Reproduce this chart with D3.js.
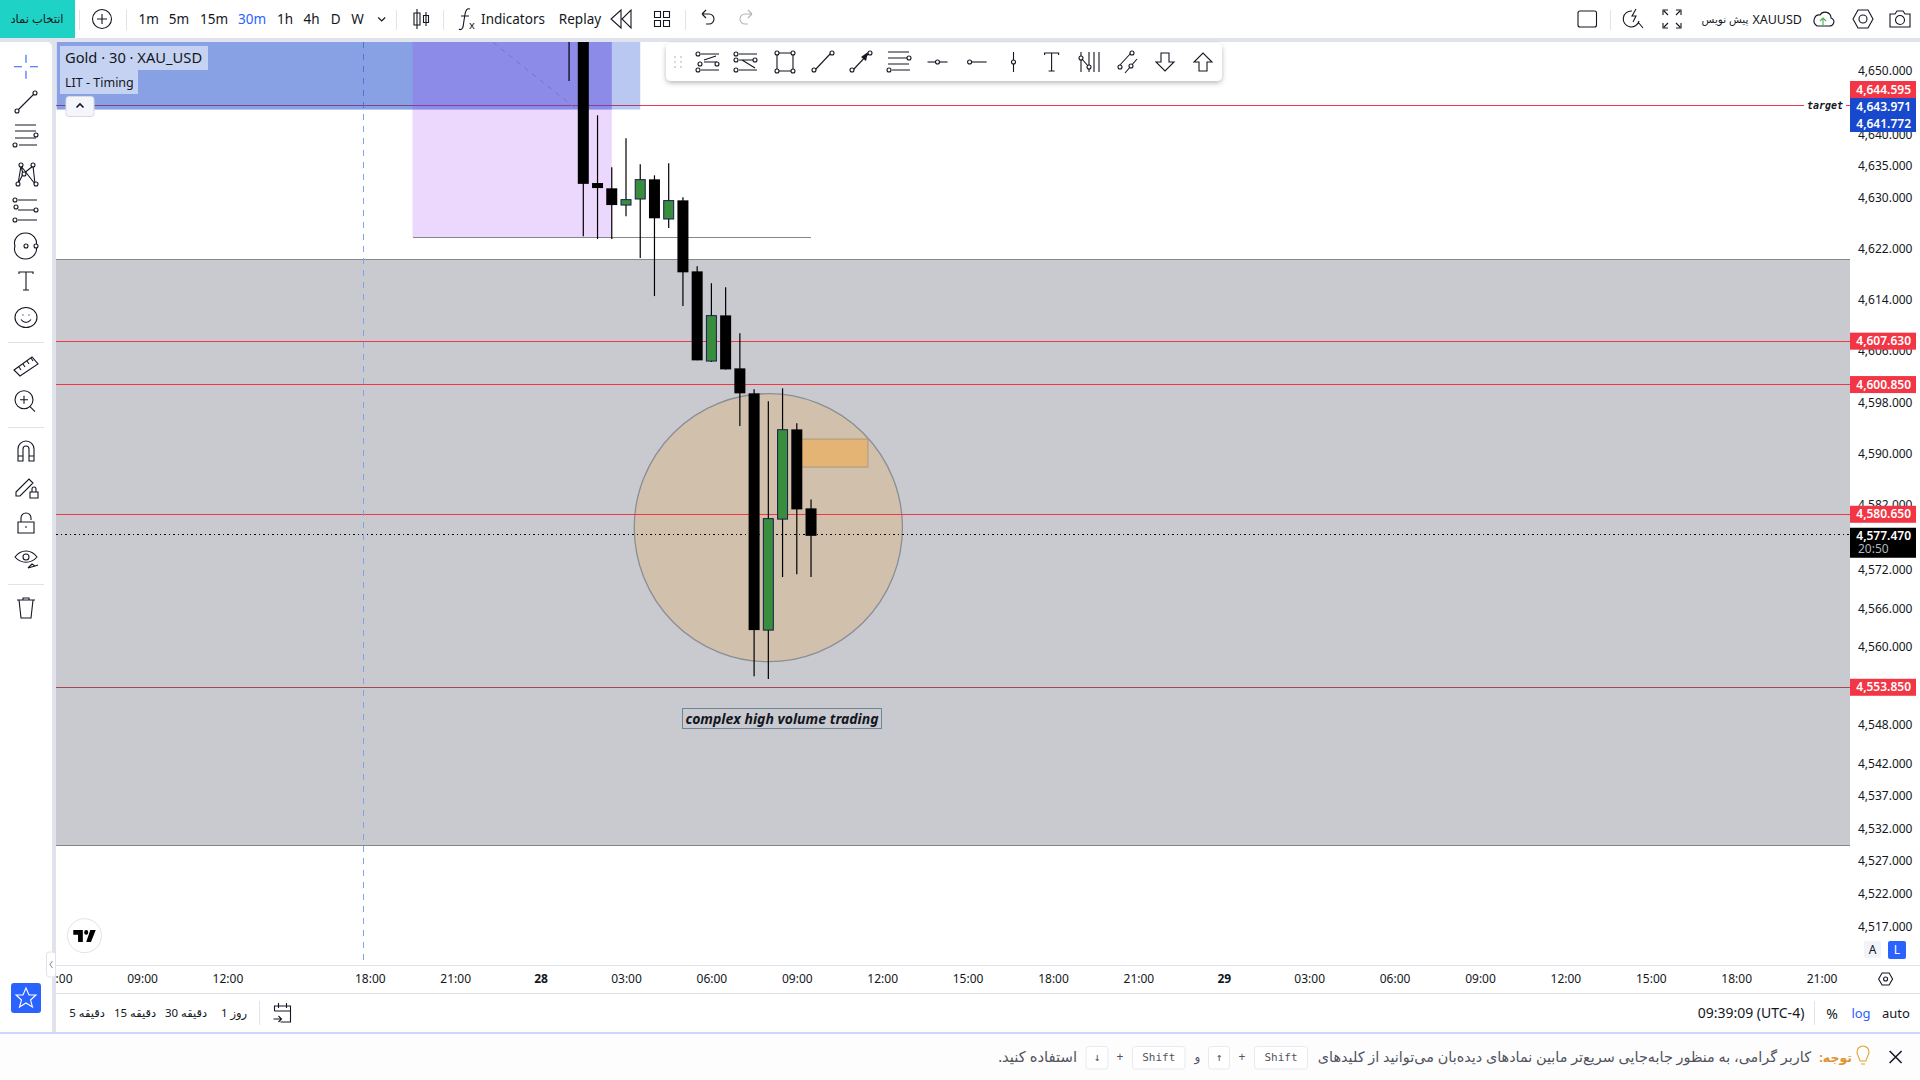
<!DOCTYPE html>
<html>
<head>
<meta charset="utf-8">
<style>
html, body { margin: 0; background: #fff; }
svg { display: block; }
text { font-family: "Noto Sans", "DejaVu Sans", sans-serif; fill: #131722; }
.tick text { font-size: 12px; }
.ico { fill: none; stroke: #131722; stroke-width: 1.1; }
.sep { stroke: #e0e3eb; stroke-width: 1; shape-rendering: crispEdges; }
</style>
</head>
<body>
<script src="https://cdnjs.cloudflare.com/ajax/libs/d3/7.8.5/d3.min.js"></script>
<script>
// bars are counted from 28th 00:00, 30 min each
var candleBars = [2, 3, 4, 5, 6, 7, 8, 9, 10, 11, 12, 13, 14, 15, 16, 17, 18, 19];
var candleOpen = [4668, 4662, 4632.41, 4631.58, 4628.95, 4629.90, 4632.99, 4626.76, 4629.69, 4618.55, 4604.52, 4611.66, 4603.38, 4599.48, 4562.69, 4579.90, 4593.86, 4581.57];
var candleClose = [4655, 4632.28, 4631.62, 4628.95, 4629.80, 4632.94, 4626.87, 4629.65, 4618.40, 4604.63, 4611.62, 4603.22, 4599.48, 4562.69, 4579.97, 4593.81, 4581.41, 4577.30];
var candleHigh = [4675, 4668, 4643.06, 4634.88, 4639.44, 4635.35, 4633.62, 4635.51, 4630.16, 4619.34, 4616.67, 4616.05, 4608.85, 4600.10, 4598.23, 4600.26, 4594.80, 4582.96];
var candleLow = [4648.47, 4624.04, 4623.62, 4623.62, 4627.18, 4620.64, 4614.68, 4625.34, 4613.12, 4604.63, 4604.36, 4603.22, 4594.38, 4555.57, 4555.11, 4570.90, 4571.36, 4570.90];

var priceTicks = [4650, 4640, 4635, 4630, 4622, 4614, 4606, 4598, 4590, 4582, 4572, 4566, 4560, 4548, 4542, 4537, 4532, 4527, 4522, 4517];
var timeBars = [-34, -28, -22, -12, -6, 0, 6, 12, 18, 24, 30, 36, 42, 48, 54, 60, 66, 72, 78, 84, 90];
var timeLabels = ["06:00", "09:00", "12:00", "18:00", "21:00", "28", "03:00", "06:00", "09:00", "12:00", "15:00", "18:00", "21:00", "29", "03:00", "06:00", "09:00", "12:00", "15:00", "18:00", "21:00"];

var redLevels = [4644.595, 4607.63, 4600.85, 4580.65, 4553.85];
var blueLevels = [4643.971, 4641.772];
var lastPrice = 4577.47;
var countdown = "20:50";

var grayZone = [4620.4, 4529.4];
var circleBars = [6.58, 25.42];
var circlePrices = [4599.43, 4557.80];
var orangeBars = [18, 23];
var orangePrices = [4592.35, 4587.99];
var blueBoxBars = [[-34, 7], [-34, 5]];
var purpleBars = [-9, 5];
var purplePrices = [4660, 4623.9];
var stopLineBars = [-9, 19];
var dashBars = [-3.34, 2.62];
var dashPrices = [4654.58, 4643.85];
var sessionBar = -12.43;

var svg = d3.select("body").append("svg").attr("width", 1920).attr("height", 1080);
var defs = svg.append("defs");
defs.append("clipPath").attr("id", "plot").append("rect").attr("x", 56).attr("y", 42).attr("width", 1794).attr("height", 923);
defs.append("clipPath").attr("id", "timeclip").append("rect").attr("x", 56).attr("y", 965).attr("width", 1794).attr("height", 28);
var blur = defs.append("filter").attr("id", "shadow").attr("x", "-5%").attr("y", "-20%").attr("width", "110%").attr("height", "150%");
blur.append("feDropShadow").attr("dx", 0).attr("dy", 2).attr("stdDeviation", 2.5).attr("flood-color", "#000").attr("flood-opacity", 0.28);

// scales: x by bar number, y log like the chart's "log" switch
var x = d3.scaleLinear().domain([0, 6]).range([540.6, 626]);
var y = d3.scaleLog().domain([4650, 4517]).range([71.3, 926.8]);

var plot = svg.append("g").attr("clip-path", "url(#plot)");
var red = "#f23645";

// drawings below the candles
plot.append("rect").attr("x", 56).attr("width", 1794)
  .attr("y", y(grayZone[0])).attr("height", y(grayZone[1]) - y(grayZone[0]))
  .attr("fill", "#c9cacf");
plot.selectAll(".zoneedge").data(grayZone).enter().append("line").attr("class", "zoneedge")
  .attr("x1", 56).attr("x2", 1850).attr("y1", function(d) { return y(d); }).attr("y2", function(d) { return y(d); })
  .attr("stroke", "#85868a").attr("stroke-width", 1).attr("shape-rendering", "crispEdges");

plot.append("ellipse")
  .attr("cx", (x(circleBars[0]) + x(circleBars[1])) / 2).attr("rx", (x(circleBars[1]) - x(circleBars[0])) / 2)
  .attr("cy", (y(circlePrices[0]) + y(circlePrices[1])) / 2).attr("ry", (y(circlePrices[1]) - y(circlePrices[0])) / 2)
  .attr("fill", "#d1c1ac").attr("stroke", "#8b8d95").attr("stroke-width", 1.3);

plot.append("rect").attr("x", x(orangeBars[0])).attr("width", x(orangeBars[1]) - x(orangeBars[0]))
  .attr("y", y(orangePrices[0])).attr("height", y(orangePrices[1]) - y(orangePrices[0]))
  .attr("fill", "#e3b474").attr("stroke", "#a89a85").attr("stroke-width", 1);

// the lowest level reads darker in the picture
plot.selectAll(".level").data(redLevels).enter().append("line").attr("class", "level")
  .attr("x1", 56).attr("x2", 1850).attr("y1", function(d) { return y(d); }).attr("y2", function(d) { return y(d); })
  .attr("stroke", function(d, i) { return i === redLevels.length - 1 ? "#a8464f" : red; }).attr("stroke-width", 1).attr("shape-rendering", "crispEdges");

plot.append("line").attr("x1", 56).attr("x2", 1850).attr("y1", y(lastPrice)).attr("y2", y(lastPrice))
  .attr("stroke", "#000").attr("stroke-dasharray", "1.5,3").attr("stroke-width", 1).attr("shape-rendering", "crispEdges");

plot.append("line").attr("x1", x(sessionBar)).attr("x2", x(sessionBar)).attr("y1", 42).attr("y2", 961)
  .attr("stroke", "#7ea6ea").attr("stroke-dasharray", "6,6").attr("stroke-width", 1).attr("shape-rendering", "crispEdges");

plot.selectAll(".bluebox").data(blueBoxBars).enter().append("rect").attr("class", "bluebox")
  .attr("x", function(d) { return x(d[0]); }).attr("width", function(d) { return x(d[1]) - x(d[0]); })
  .attr("y", 42).attr("height", y(blueLevels[0]) - 42).attr("fill", "#1848cc").attr("fill-opacity", 0.3);

plot.append("rect").attr("x", x(purpleBars[0])).attr("width", x(purpleBars[1]) - x(purpleBars[0]))
  .attr("y", y(purplePrices[0])).attr("height", y(purplePrices[1]) - y(purplePrices[0]))
  .attr("fill", "#a037f5").attr("fill-opacity", 0.2);

plot.append("line").attr("x1", x(stopLineBars[0])).attr("x2", x(stopLineBars[1])).attr("y1", y(purplePrices[1])).attr("y2", y(purplePrices[1]))
  .attr("stroke", "#85868a").attr("stroke-width", 1).attr("shape-rendering", "crispEdges");

plot.append("line").attr("x1", x(dashBars[0])).attr("x2", x(dashBars[1])).attr("y1", y(dashPrices[0])).attr("y2", y(dashPrices[1]))
  .attr("stroke", "#7c78b8").attr("stroke-dasharray", "5,5").attr("stroke-width", 1);

// candles
var candles = plot.selectAll(".candle").data(candleBars).enter().append("g").attr("class", "candle");
candles.append("line")
  .attr("x1", function(d) { return x(d); }).attr("x2", function(d) { return x(d); })
  .attr("y1", function(d, i) { return y(candleHigh[i]); }).attr("y2", function(d, i) { return y(candleLow[i]); })
  .attr("stroke", "#000").attr("stroke-width", 1.2);
candles.append("rect")
  .attr("x", function(d, i) { return x(d) - (candleClose[i] > candleOpen[i] ? 5 : 5.5); })
  .attr("width", function(d, i) { return candleClose[i] > candleOpen[i] ? 10 : 11; })
  .attr("y", function(d, i) { return y(Math.max(candleOpen[i], candleClose[i])); })
  .attr("height", function(d, i) { return Math.abs(y(candleOpen[i]) - y(candleClose[i])); })
  .attr("fill", function(d, i) { return candleClose[i] > candleOpen[i] ? "#388e3c" : "#000"; })
  .attr("stroke", function(d, i) { return candleClose[i] > candleOpen[i] ? "#1b1b50" : "none"; })
  .attr("stroke-width", 1);

// drawing labels
svg.append("rect").attr("x", 1804).attr("y", y(redLevels[0]) - 8).attr("width", 42).attr("height", 16).attr("fill", "#fff");
svg.append("text").attr("x", 1825).attr("y", y(redLevels[0]) + 3.5).attr("text-anchor", "middle")
  .style("font-family", "'DejaVu Sans Mono'").style("font-size", "10px").style("font-weight", 700).style("font-style", "italic").text("target");

svg.append("rect").attr("x", 682.5).attr("y", 708.5).attr("width", 199).attr("height", 20)
  .attr("fill", "#c9cacf").attr("stroke", "#6f8695").attr("stroke-width", 1);
svg.append("text").attr("x", 782).attr("y", 723.5).attr("text-anchor", "middle")
  .style("font-size", "14px").style("font-weight", 700).style("font-style", "italic").text("complex high volume trading");

// price axis
svg.append("g").attr("transform", "translate(1850,-0.5)")
  .call(d3.axisRight(y).tickValues(priceTicks).tickSize(0).tickPadding(8).tickFormat(d3.format(",.3f")))
  .call(function(g) { g.select(".domain").remove(); });

// badges, pushed up when they would overlap
var badges = redLevels.map(function(d) { return { v: d, c: red }; })
  .concat(blueLevels.map(function(d) { return { v: d, c: "#1848cc" }; }))
  .sort(function(a, b) { return a.v - b.v; });
var lastTop = 2000;
badges.forEach(function(b) {
  b.cy = Math.min(y(b.v), lastTop - 8.5);
  lastTop = b.cy - 8.5;
});
var badge = svg.selectAll(".badge").data(badges).enter().append("g").attr("class", "badge");
badge.append("rect").attr("x", 1850).attr("width", 66).attr("height", 17)
  .attr("y", function(d) { return d.cy - 8.5; }).attr("fill", function(d) { return d.c; });
badge.append("text").attr("x", 1911).attr("text-anchor", "end").attr("y", function(d) { return d.cy + 4.2; })
  .style("fill", "#fff").style("font-size", "12px").style("font-weight", 600).text(function(d) { return d3.format(",.3f")(d.v); });

svg.append("rect").attr("x", 1850).attr("y", y(lastPrice) - 7).attr("width", 66).attr("height", 30).attr("fill", "#000");
svg.append("text").attr("x", 1911).attr("y", y(lastPrice) + 5).attr("text-anchor", "end")
  .style("fill", "#fff").style("font-size", "12px").style("font-weight", 600).text(d3.format(",.3f")(lastPrice));
svg.append("text").attr("x", 1858).attr("y", y(lastPrice) + 18).style("fill", "#b2b5be").style("font-size", "12px").text(countdown);

// time axis
var timeAxis = svg.append("g").attr("clip-path", "url(#timeclip)").append("g").attr("transform", "translate(0,965)")
  .call(d3.axisBottom(x).tickValues(timeBars).tickSize(0).tickPadding(9).tickFormat(function(d, i) { return timeLabels[i]; }));
timeAxis.select(".domain").remove();
timeAxis.selectAll("text").style("font-weight", function(d, i) { return timeLabels[i].length < 3 ? 700 : 400; });

// frame
function box(xx, yy, w, h, fill) { return svg.append("rect").attr("x", xx).attr("y", yy).attr("width", w).attr("height", h).attr("fill", fill); }
function label(txt, xx, yy, size, anchor, color) {
  return svg.append("text").attr("x", xx).attr("y", yy).attr("text-anchor", anchor || "middle")
    .style("font-size", (size || 13) + "px").style("fill", color || "#131722").text(txt);
}
function sepV(xx, y0, y1) { svg.append("line").attr("class", "sep").attr("x1", xx).attr("x2", xx).attr("y1", y0).attr("y2", y1); }
function sepH(x0, x1, yy) { svg.append("line").attr("class", "sep").attr("x1", x0).attr("x2", x1).attr("y1", yy).attr("y2", yy); }
function ico(cx, cy, d, dots, color) {
  var g = svg.append("g").attr("class", "ico").attr("transform", "translate(" + cx + "," + cy + ")");
  if (color) g.style("stroke", color);
  g.append("path").attr("d", d);
  (dots || []).forEach(function(p) { g.append("circle").attr("cx", p[0]).attr("cy", p[1]).attr("r", 2).attr("fill", "#fff"); });
  return g;
}

box(0, 38, 1920, 4, "#e0e3eb");
box(52, 42, 4, 991, "#e0e3eb");
svg.append("path").attr("d", "M0 42H47a5 5 0 0 1 5 5V42Z").attr("fill", "#e0e3eb");
sepH(56, 1920, 965.5);
sepH(56, 1920, 993.5);
box(0, 1032, 1920, 2, "#cdd6fb");
box(0, 1034, 1920, 46, "#fdfdfd");

// legend
box(60, 46, 148, 24, "#c5d2f2");
box(60, 70, 78, 24, "#c5d2f2");
label("Gold · 30 · XAU_USD", 65, 63, 14.7, "start");
label("LIT - Timing", 65, 87, 12.5, "start");
svg.append("rect").attr("x", 66).attr("y", 96.5).attr("width", 28).attr("height", 20).attr("rx", 3)
  .attr("fill", "#f4f6fc").attr("stroke", "#d7dbe6");
ico(80, 106, "M-3.5 1.5L0 -2L3.5 1.5").style("stroke-width", 1.6);

// top bar
box(0, 0, 75, 38, "#1ed2c5");
label("انتخاب نماد", 37, 23, 11.5);
ico(102, 19, "M-5 0H5M0 -5V5M9.5 0A9.5 9.5 0 1 1 -9.5 0A9.5 9.5 0 1 1 9.5 0");
sepV(79.5, 10, 30); sepV(126.5, 10, 30); sepV(396.5, 10, 30); sepV(443.5, 10, 30); sepV(685.5, 10, 30); sepV(1610.5, 10, 30);
[["1m", 148.7], ["5m", 179], ["15m", 214], ["30m", 252], ["1h", 285], ["4h", 311.6], ["D", 335.7], ["W", 357.6]].forEach(function(t) {
  label(t[0], t[1], 24, 13.5, "middle", t[0] === "30m" ? "#2962ff" : "#131722");
});
ico(381.7, 19, "M-3.5 -1.5L0 2L3.5 -1.5");
ico(421, 19, "M-4 -10V10M-7 -6H-1V6H-7ZM5 -7V7M2.5 -3.5H7.5V3.5H2.5Z");
ico(465, 19, "M5 -10C2 -11 1 -9 0 -5L-2 8C-3 11 -5 11 -6 10M-4 -3H4");
label("x", 472, 29, 11);
label("Indicators", 513, 24, 13.5);
label("Replay", 580, 24, 13.5);
ico(621, 19, "M0 -9V9L-10 0ZM10 -9V9L1 0Z");
ico(662, 19, "M-7.5 -7.5H-1.5V-1.5H-7.5ZM1.5 -7.5H7.5V-1.5H1.5ZM-7.5 1.5H-1.5V7.5H-7.5ZM1.5 1.5H7.5V7.5H1.5Z");
ico(708, 19, "M-6 -5L-2 -1M-6 -5L-2 -9M-6 -5H1A5 5 0 0 1 1 5H-2");
ico(746, 19, "M6 -5L2 -1M6 -5L2 -9M6 -5H-1A5 5 0 0 0 -1 5H2", null, "#b2b5be");
svg.append("rect").attr("class", "ico").attr("x", 1578).attr("y", 11).attr("width", 18.5).attr("height", 16).attr("rx", 2);
ico(1633, 18, "M-1 -7A8 8 0 1 0 6 3M5 4L10 10M3 -9L-1 -2H3L0 4");
ico(1672, 19, "M-9 -4V-9H-4M4 -9H9V-4M9 4V9H4M-4 9H-9V4M-8 -8L-4 -4M8 -8L4 -4M-8 8L-4 4M8 8L4 4");
label("پیش نویس", 1725, 23, 10.5, "middle");
label("XAUUSD", 1802, 24, 12.5, "end");
ico(1823, 19, "M-6 7H6C11 7 13 1 8 -1C8 -7 0 -9 -3 -4C-8 -5 -12 3 -6 7Z");
ico(1823, 19, "M0 7V-1M-3 2L0 -1L3 2", null, "#4caf50");
ico(1863, 19, "M-10 0L-5 -9H5L10 0L5 9H-5ZM4 0A4 4 0 1 1 -4 0A4 4 0 1 1 4 0");
ico(1900, 19, "M-10 -5H-5L-3 -8H3L5 -5H10V8H-10ZM4.5 1A4.5 4.5 0 1 1 -4.5 1A4.5 4.5 0 1 1 4.5 1");

// left tool bar
ico(26, 66.8, "M-12 0H-4M4 0H12M0 -12V-4M0 4V12", null, "#2962ff");
ico(26, 102, "M-8 8L8 -8", [[-9, 9], [9, -9]]);
ico(26, 136, "M-11 -11H10M-11 -5H10M-11 2H10M-7 9H11", [[10, -1], [-11, 9]]);
ico(26, 174, "M-8 10L-5 -8L9 10M-5 -8L-3 0L-8 10M7 -8L9 10M7 -8L-3 0", [[-8, 10], [-5, -9], [7, -9], [10, 10], [-2, 0]]);
ico(26, 210, "M-8 -10H11M-8 0H10M-8 10H11", [[-11, -10], [-10, -3], [-11, 10], [10, 0]]);
ico(26, 246, "M10 0A11 10 0 1 1 -11 0A11 10 0 1 1 10 0", [[10, 0], [0, 0]]);
ico(26, 281, "M-7 -7V-9H7V-7M0 -9V9M-3 9H3");
ico(26, 317.5, "M11 0A11 10 0 1 1 -11 0A11 10 0 1 1 11 0M-5 2C-2 6 2 6 5 2M-3 -3V-2M3 -3V-2");
sepH(8, 44, 342.5);
ico(26, 366, "M-12 4L6 -9L12 -2L-6 10ZM-7 1L-5 4M-3 -2L-1 1M1 -5L3 -2M5 -8L7 -5");
ico(26, 401.7, "M7 -2A9 9 0 1 1 -11 -2A9 9 0 1 1 7 -2M-6 -2H2M-2 -6V2M4 5L9 10");
sepH(8, 44, 427.5);
ico(26, 451, "M-8 10V-2A8 8 0 0 1 8 -2V10H3V-2A3 3 0 0 0 -3 -2V10ZM-8 5H-3M3 5H8");
ico(26, 486, "M-10 6L3 -7L7 -3L-6 10H-10ZM4 6H12V12H4ZM6 6V3A2 2 0 0 1 10 3V6");
ico(26, 523, "M-8 -1H8V10H-8ZM-5 -1V-5A5 5 0 0 1 5 -5V-3M-1 4H1");
ico(26, 559, "M-11 -2C-5 -10 5 -10 11 -2C5 5 -5 5 -11 -2ZM3 -2A3 3 0 1 1 -3 -2A3 3 0 1 1 3 -2M2 9L6 5L9 7M2 9L9 7L12 6");
sepH(8, 44, 584.5);
ico(26, 608, "M-9 -8H9M-7 -8L-5 10H5L7 -8M-3 -8V-10H3V-8");

// floating drawings bar
svg.append("rect").attr("x", 666).attr("y", 43).attr("width", 556).attr("height", 38).attr("rx", 5).attr("fill", "#fff").attr("filter", "url(#shadow)");
svg.append("g").selectAll("circle").data([[0, 0], [0, 1], [0, 2], [1, 0], [1, 1], [1, 2]]).enter().append("circle")
  .attr("cx", function(d) { return 675 + d[0] * 6; }).attr("cy", function(d) { return 57 + d[1] * 5; }).attr("r", 1).attr("fill", "#c9cbd1");
var fy = 62;
ico(708, fy, "M-7 -8H11M-4 0H9M-7 8H11M-4 -2L8 -6", [[-10, -8], [-8, 2], [-10, 8], [9, 2]]);
ico(746, fy, "M-7 -8H11M-7 -2H9M-7 8H11M-4 -2L9 6", [[-10, -8], [-10, -2], [-10, 8], [9, -2]]);
ico(785, fy, "M-8 -9H8V9H-8Z", [[-8, -9], [8, -9], [-8, 9], [8, 9]]);
ico(823, fy, "M-8 8L8 -9", [[-9, 8], [9, -9]]);
ico(861, fy, "M-8 8L8 -9", [[-9, 8], [9, -9]]);
svg.append("path").attr("d", "M861 57L868 52L866 61Z").attr("fill", "#131722");
ico(899, fy, "M-11 -10H10M-11 -4H10M-11 2H10M-7 8H11", [[10, -4], [-10, 8]]);
ico(937.5, fy, "M-10 0H10", [[0, 0]]);
ico(975.6, fy, "M-5 0H11", [[-6, 0]]);
ico(1013.5, fy, "M0 -10V10", [[0, 0]]);
ico(1051.6, fy, "M-7 -7V-9H7V-7M0 -9V9M-3 9H3");
ico(1090, fy, "M-9 -10V10M-1 -10V10M4 -10V10M9 -10V10M-9 -4L-1 5", [[-9, -4], [-1, 5]]);
ico(1128, fy, "M-9 4L3 -9M-3 11L9 -3", [[-8, 5], [4, -9], [3, 4]]);
ico(1165, fy, "M-4 -9H4V0H9L0 9L-9 0H-4Z");
ico(1203, fy, "M-4 9H4V0H9L0 -9L-9 0H-4Z");

// lower left
svg.append("ellipse").attr("cx", 84.5).attr("cy", 935.7).attr("rx", 17).attr("ry", 17).attr("fill", "#fff").attr("stroke", "#e0e3eb");
svg.append("path").attr("transform", "translate(73.3,925.2) scale(0.68,0.8)")
  .attr("d", "M14 6H0v6h7v9h7V6zm12 15h-7l6-15h8l-7 15zm-7-9a3 3 0 100-6 3 3 0 000 6z").attr("fill", "#000");
svg.append("rect").attr("x", 46.5).attr("y", 952).attr("width", 9).attr("height", 25).attr("rx", 3).attr("fill", "#fff").attr("stroke", "#e0e3eb");
ico(51, 964.5, "M1.5 -3.5L-1 0L1.5 3.5", null, "#9598a1");
svg.append("rect").attr("x", 11).attr("y", 983).attr("width", 30).attr("height", 30).attr("rx", 3).attr("fill", "#2962ff");
ico(26, 998, "M0 -10L3 -3L10 -3L4.5 2L6.5 9L0 5L-6.5 9L-4.5 2L-10 -3L-3 -3Z", null, "#fff");

// bottom bar
[["5 دقیقه", 87], ["15 دقیقه", 135], ["30 دقیقه", 186], ["1 روز", 234]].forEach(function(t) { label(t[0], t[1], 1017, 11.5); });
sepV(259.5, 1001, 1025);
ico(282.5, 1013, "M-8 -2V-7H8V9H-2M-8 -2H8M-4 -10V-5M4 -10V-5M-9 6H-1M-4 3L-1 6L-4 9");
label("09:39:09 (UTC-4)", 1751, 1018, 14);
sepV(1814.5, 1001, 1025);
label("%", 1832, 1018.5, 14);
label("log", 1861, 1018, 13, "middle", "#2962ff");
label("auto", 1896, 1018, 13);

// corner of the price axis
svg.append("rect").attr("x", 1864).attr("y", 941).attr("width", 17).attr("height", 17).attr("rx", 2).attr("fill", "#f0f3fa");
label("A", 1872.5, 954, 12);
svg.append("rect").attr("x", 1888).attr("y", 941).attr("width", 18).attr("height", 18).attr("rx", 2).attr("fill", "#2962ff");
label("L", 1897, 954, 12, "middle", "#fff");
ico(1885.6, 979, "M-7 0L-3.5 -6H3.5L7 0L3.5 6H-3.5ZM2 0A2 2 0 1 1 -2 0A2 2 0 1 1 2 0");

// notice bar
function key(xx, w, txt) {
  svg.append("rect").attr("x", xx).attr("y", 1046.5).attr("width", w).attr("height", 22.5).attr("rx", 3).attr("fill", "#fff").attr("stroke", "#e8eaef");
  label(txt, xx + w / 2, 1061, 11, "middle", "#50535e").style("font-family", "'DejaVu Sans Mono'");
}
function rtl(txt, xx, size, color) {
  return svg.append("text").attr("x", xx).attr("y", 1061.5).attr("direction", "rtl").attr("text-anchor", "start")
    .style("font-size", size + "px").style("fill", color).text(txt);
}
ico(1895.6, 1057, "M-6 -6L6 6M6 -6L-6 6").style("stroke-width", 1.5);
ico(1863, 1056, "M-3 5C-3 2 -6 0 -6 -4A6 6 0 0 1 6 -4C6 0 3 2 3 5ZM-2 8H2", null, "#e0a32e");
rtl("توجه:", 1852, 12.5, "#e0922e").style("font-weight", 700);
rtl("کاربر گرامی، به منظور جابه‌جایی سریع‌تر مابین نمادهای دیده‌بان می‌توانید از کلیدهای", 1811, 14.4, "#50535e");
key(1254.5, 53, "Shift");
label("+", 1242, 1061, 12, "middle", "#50535e");
key(1208.5, 21, "↑");
label("و", 1197.5, 1061, 12, "middle", "#50535e");
key(1132.5, 52.5, "Shift");
label("+", 1120, 1061, 12, "middle", "#50535e");
key(1086, 22, "↓");
rtl("استفاده کنید.", 1077, 14.8, "#50535e");
</script>
</body>
</html>
